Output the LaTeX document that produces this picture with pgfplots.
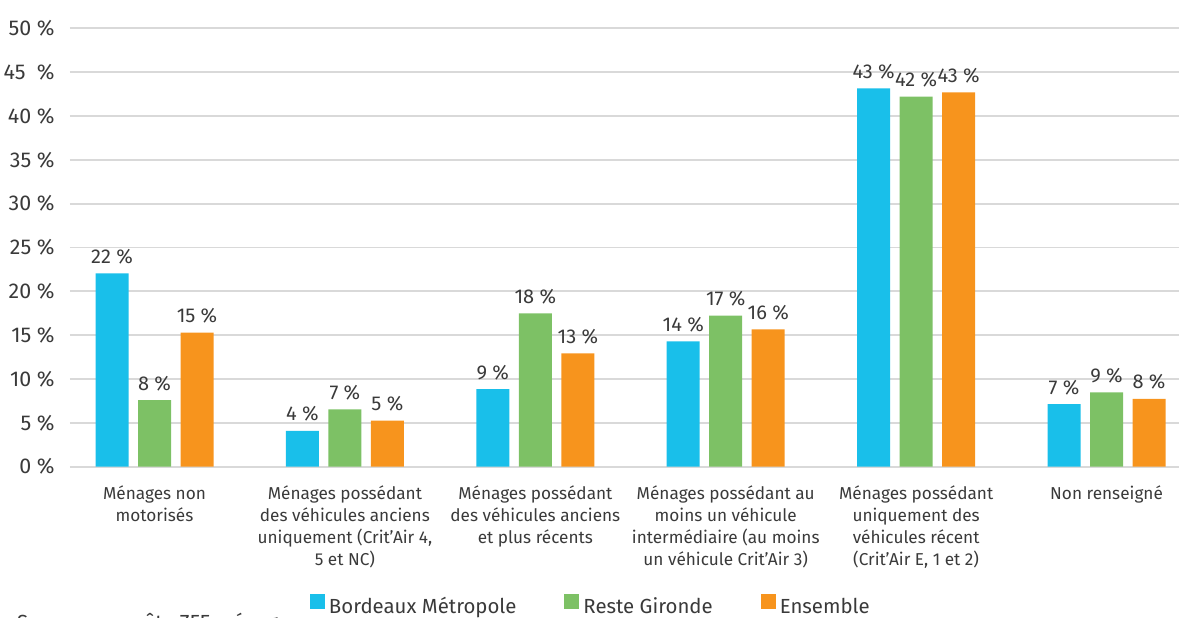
\documentclass[border=0pt]{standalone}
\usepackage{pgfplots}
\usepackage{pgfplotstable}
\pgfplotsset{compat=1.18}
\usepackage{fontspec}
\setmainfont{Fira Sans}
\definecolor{cblue}{HTML}{19BFEA}
\definecolor{cgreen}{HTML}{7DC165}
\definecolor{corange}{HTML}{F7941D}
\definecolor{txt}{HTML}{3A3A3A}
\definecolor{grd}{HTML}{D9D9D9}

\pgfplotstableread{
x bm rg en bml rgl enl
0 22.05 7.6 15.28 22 8 15
1 4.1 6.54 5.25 4 7 5
2 8.86 17.49 12.93 9 18 13
3 14.3 17.22 15.66 14 17 16
4 43.15 42.2 42.7 43 42 43
5 7.15 8.48 7.75 7 9 8
}\data

\begin{document}
\begin{tikzpicture}
\begin{axis}[
  at={(35pt,75.15pt)}, anchor=south west,
  scale only axis,
  width=557.5pt, height=219.2pt,
  xmin=-0.4438, xmax=5.412,
  ymin=0, ymax=50,
  ybar=4.75pt, bar width=16.5pt,
  axis line style={draw=none},
  major tick length=0pt,
  ymajorgrids,
  major grid style={grd, line width=0.9pt},
  ytick={0,5,...,50},
  yticklabels={0 \%,5 \%,10 \%,15 \%,20 \%,25 \%,30 \%,35 \%,40 \%,45\ \ \%,50 \%},
  yticklabel style={font=\fontsize{10.7}{13}\selectfont, color=txt, inner sep=0pt, xshift=-7.5pt},
  xtick={0,...,5},
  xticklabels={
    {Ménages non\\motorisés},
    {Ménages possédant\\des véhicules anciens\\uniquement (Crit’Air 4,\\5 et NC)},
    {Ménages possédant\\des véhicules anciens\\et plus récents},
    {Ménages possédant au\\moins un véhicule\\intermédiaire (au moins\\un véhicule Crit’Air 3)},
    {Ménages possédant\\uniquement des\\véhicules récent\\(Crit’Air E, 1 et 2)},
    {Non renseigné}},
  xticklabel style={align=center, font=\fontsize{8.6}{11}\selectfont, color=txt, anchor=north, inner sep=0pt, yshift=-9.3pt},
  nodes near coords={\pgfplotspointmeta~\%},
  point meta=explicit symbolic,
  every node near coord/.append style={font=\fontsize{10}{12}\selectfont, color=txt, inner sep=0pt, yshift=5pt, anchor=base},
  legend columns=3,
  legend style={at={(0.468,-0.32)}, anchor=center, draw=none, fill=none,
    font=\fontsize{10.2}{12}\selectfont, text=txt,
    /tikz/every even column/.append style={column sep=22pt}},
  legend image code/.code={\fill[#1] (-2.5pt,-1pt) rectangle (5pt,6.5pt);},
  clip=false,
]
\addplot[fill=cblue, draw=none] table[x=x, y=bm, meta=bml] {\data};
\addplot[fill=cgreen, draw=none] table[x=x, y=rg, meta=rgl] {\data};
\addplot[fill=corange, draw=none] table[x=x, y=en, meta=enl] {\data};
\legend{Bordeaux Métropole, Reste Gironde, Ensemble}
\end{axis}
\node[anchor=base west, font=\fontsize{10.2}{12}\selectfont, text=txt] at (5pt,-6pt) {Source : enquête ZFE ménages};
\pgfresetboundingbox
\useasboundingbox (0,0) rectangle (589.5pt,308.5pt);
\end{tikzpicture}
\end{document}
